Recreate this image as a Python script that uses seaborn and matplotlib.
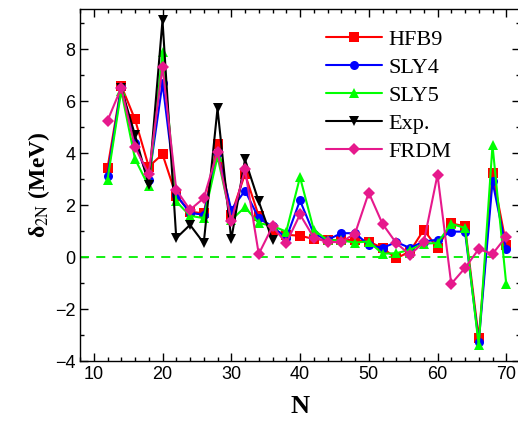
import numpy as np
import pandas as pd
import matplotlib
matplotlib.use("Agg")
import matplotlib.pyplot as plt
import seaborn as sns
from matplotlib.ticker import MultipleLocator

sns.set_theme(style="ticks")
plt.rcParams['font.family'] = ['Liberation Sans', 'DejaVu Sans']
plt.rcParams['mathtext.fontset'] = 'stix'

N = [12, 14, 16, 18, 20, 22, 24, 26, 28, 30, 32, 34, 36, 38, 40, 42, 44, 46, 48, 50,
     52, 54, 56, 58, 60, 62, 64, 66, 68, 70]
hfb9 = [3.42, 6.60, 5.30, 3.48, 3.96, 2.35, 1.75, 1.68, 4.35, 1.63, 3.20, 1.58, 1.05, 0.86, 0.82,
        0.70, 0.66, 0.65, 0.66, 0.60, 0.35, -0.05, 0.22, 1.05, 0.35, 1.30, 1.18, -3.12, 3.22, 0.47]
sly4 = [3.13, 6.55, 4.40, 2.97, 6.70, 2.40, 1.70, 1.63, 4.00, 1.82, 2.56, 1.50, 1.18, 0.73, 2.18,
        0.90, 0.66, 0.92, 0.92, 0.47, 0.35, 0.58, 0.35, 0.60, 0.67, 0.98, 0.98, -3.28, 2.91, 0.30]
sly5 = [2.97, 6.40, 3.78, 2.72, 7.90, 2.14, 1.59, 1.50, 3.87, 1.43, 1.92, 1.31, 1.20, 0.98, 3.08,
        1.05, 0.65, 0.64, 0.56, 0.60, 0.13, 0.15, 0.28, 0.52, 0.54, 1.28, 1.12, -3.40, 4.30, -1.05]
exp_N = [14, 16, 18, 20, 22, 24, 26, 28, 30, 32, 34, 36]
exp = [6.50, 4.70, 2.78, 9.12, 0.73, 1.24, 0.54, 5.72, 0.68, 3.76, 2.14, 0.64]
frdm = [5.25, 6.52, 4.22, 3.20, 7.33, 2.59, 1.82, 2.27, 4.06, 1.37, 3.38, 0.12, 1.18, 0.54, 1.64,
        0.75, 0.58, 0.58, 0.90, 2.48, 1.28, 0.54, 0.09, 0.57, 3.17, -1.03, -0.42, 0.31, 0.12, 0.79]

labels = ["HFB9", "SLY4", "SLY5", "Exp.", "FRDM"]
colors = ["#FF0000", "#0000FF", "#00FF00", "#000000", "#E6198C"]
marks = ["s", "o", "^", "v", "D"]

frames = []
for lab, xs, ys in zip(labels, [N, N, N, exp_N, N], [hfb9, sly4, sly5, exp, frdm]):
    frames.append(pd.DataFrame({"N": xs, "val": ys, "model": lab}))
df = pd.concat(frames, ignore_index=True)

fig = plt.figure(figsize=(5.18, 4.33), dpi=100)
ax = fig.add_axes([80/518, 1 - 361/433, 440/518, 352/433])

ax.axhline(0, color="#00EE00", lw=1.3, ls=(0, (5, 4)), zorder=1)

sns.lineplot(data=df, x="N", y="val", hue="model", style="model",
             hue_order=labels, style_order=labels,
             palette=dict(zip(labels, colors)), markers=dict(zip(labels, marks)),
             dashes=False, markersize=6.5, markeredgewidth=0, linewidth=1.5,
             sort=False, estimator=None, ax=ax, legend=True)

ax.set_xlim(8, 72)
ax.set_ylim(-4, 9.55)
ax.xaxis.set_major_locator(MultipleLocator(10))
ax.xaxis.set_minor_locator(MultipleLocator(2))
ax.yaxis.set_major_locator(MultipleLocator(2))
ax.yaxis.set_minor_locator(MultipleLocator(1))
ax.tick_params(which="both", direction="in", top=True, right=True, width=1,
               colors="black", labelcolor="black")
ax.tick_params(which="major", length=6, labelsize=13)
ax.tick_params(which="minor", length=3)
for s in ax.spines.values():
    s.set_linewidth(1.0)
    s.set_color("black")

ax.set_xlabel("N", fontsize=19, fontweight="bold", family="Liberation Serif",
              labelpad=9, color="black")
ax.set_ylabel("δ$_{\\mathrm{2N}}$ (MeV)", fontsize=17, fontweight="bold",
              family="Liberation Serif", labelpad=2, color="black")

leg = ax.legend(loc="upper right", bbox_to_anchor=(0.89, 1.0), frameon=False,
                prop={"family": "Liberation Serif", "size": 16}, handlelength=2.5,
                handletextpad=0.3, labelspacing=0.34)
for line in leg.get_lines():
    line.set_markersize(6.5)
for t in leg.get_texts():
    t.set_color("black")

fig.savefig("out.png", dpi=100)
